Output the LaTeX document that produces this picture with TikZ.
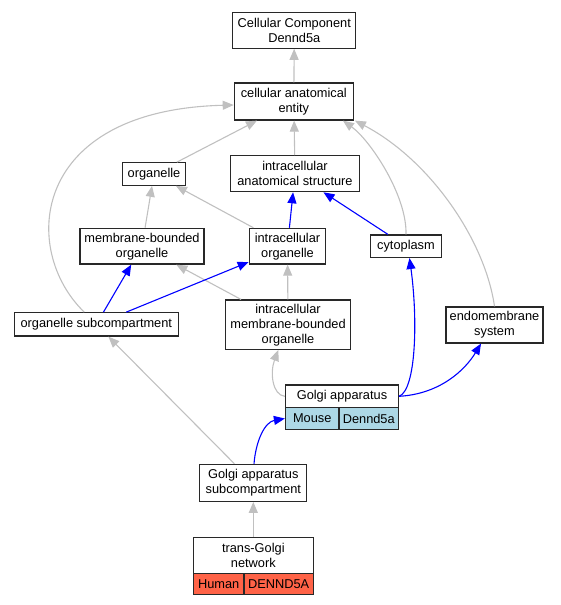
\documentclass[tikz,border=0pt]{standalone}
\usepackage{fontspec}
\setmainfont{Liberation Sans}
\usetikzlibrary{arrows.meta}
\definecolor{edgegray}{RGB}{192,192,192}
\definecolor{lblue}{RGB}{173,216,230}
\definecolor{tomatoc}{RGB}{255,99,71}
\definecolor{boxline}{RGB}{40,40,40}
\tikzset{
  box/.style={draw=boxline, line width=1.2pt, fill=white, inner sep=0pt, align=center,
    font=\fontsize{12.8}{15}\selectfont},
  gedge/.style={draw=edgegray, line width=1.1pt, -{Triangle[length=11pt,width=9pt]}},
  bedge/.style={draw=blue, line width=1.1pt, -{Triangle[length=11pt,width=9pt]}},
}
\begin{document}
\begin{tikzpicture}[x=1pt,y=-1pt]
\useasboundingbox (0,0) rectangle (560,605);
% nodes
\node[box, minimum width=123pt, minimum height=36pt] (ccd) at (294.3,30.2) {Cellular Component\\Dennd5a};
\node[box, minimum width=119pt, minimum height=37pt] (cae) at (293.8,101.5) {cellular anatomical\\entity};
\node[box, minimum width=63.5pt, minimum height=22.5pt] (org) at (154,174) {organelle};
\node[box, minimum width=128.5pt, minimum height=36pt] (ias) at (295,173.7) {intracellular\\anatomical structure};
\node[box, minimum width=124pt, minimum height=35.7pt] (mbo) at (142,246.2) {membrane-bounded\\organelle};
\node[box, minimum width=76.5pt, minimum height=35.7pt] (io) at (287.5,246.2) {intracellular\\organelle};
\node[box, minimum width=70.5pt, minimum height=22.5pt] (cyt) at (406,246.2) {cytoplasm};
\node[box, minimum width=164pt, minimum height=23.3pt] (os) at (96.3,324.4) {organelle subcompartment};
\node[box, minimum width=125pt, minimum height=49.3pt] (imbo) at (288,324.7) {intracellular\\membrane-bounded\\organelle};
\node[box, minimum width=97pt, minimum height=36pt] (ems) at (494.5,325) {endomembrane\\system};
\node[box, minimum width=113pt, minimum height=22.5pt] (golgi) at (342,396.3) {Golgi apparatus};
\node[box, fill=lblue, minimum width=53.5pt, minimum height=22pt] (gm) at (312.25,418.5) {Mouse};
\node[box, fill=lblue, minimum width=59.5pt, minimum height=22pt] (gd) at (368.75,418.5) {Dennd5a};
\node[box, minimum width=107pt, minimum height=37pt] (gas) at (253.3,482.8) {Golgi apparatus\\subcompartment};
\node[box, minimum width=120pt, minimum height=36pt] (tgn) at (253.3,555.3) {trans-Golgi\\network};
\node[box, fill=tomatoc, minimum width=50.7pt, minimum height=21.4pt] (th) at (218.65,584) {Human};
\node[box, fill=tomatoc, minimum width=69.3pt, minimum height=21.4pt] (td) at (278.65,584) {DENND5A};
% gray edges
\draw[gedge] (cae) -- (ccd);
\draw[gedge] (org) -- (cae);
\draw[gedge] (ias) -- (cae);
\draw[gedge] (cyt.north) .. controls (407,195) and (370,140) .. ([xshift=-11pt]cae.south east);
\draw[gedge] (ems.north) .. controls (485,240) and (430,160) .. ([xshift=1pt]cae.south east);
\draw[gedge] ([xshift=-12pt]os.north) .. controls (20,250) and (30,110) .. ([yshift=-3.5pt]cae.west);
\draw[gedge] (mbo) -- (org);
\draw[gedge] (io) -- (org);
\draw[gedge] (imbo) -- (mbo);
\draw[gedge] (imbo) -- (io);
\draw[gedge] (golgi.west) .. controls (272,395) and (270,372) .. ([xshift=-9.7pt]imbo.south);
\draw[gedge] (gas) -- (os);
\draw[gedge] (tgn) -- (gas);
% blue edges
\draw[bedge] (io) -- (ias);
\draw[bedge] (cyt) -- (ias);
\draw[bedge] (os) -- (mbo);
\draw[bedge] (os) -- (io);
\draw[bedge] (golgi.east) .. controls (416,390) and (418,320) .. ([xshift=3.5pt]cyt.south);
\draw[bedge] (golgi.east) .. controls (440,394) and (465,370) .. ([xshift=-13.5pt]ems.south);
\draw[bedge] ([xshift=0.7pt]gas.north) .. controls (256,440) and (265,422) .. (gm.west);
\end{tikzpicture}
\end{document}
